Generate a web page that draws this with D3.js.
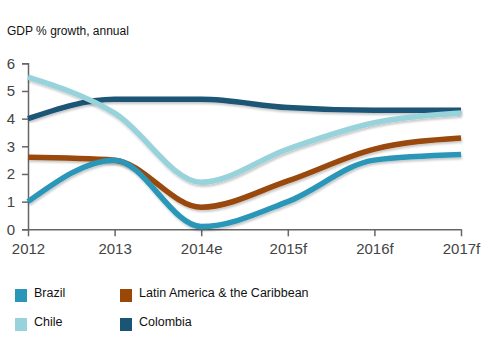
<!DOCTYPE html>
<html><head><meta charset="utf-8">
<script src="https://cdn.jsdelivr.net/npm/d3@7"></script>
<style>
body{margin:0;background:#fff;}
text{font-family:"Liberation Sans",Arial,sans-serif;}
</style></head>
<body><svg id="c" width="496" height="343"></svg>
<script>
const years = ["2012","2013","2014e","2015f","2016f","2017f"];
const brazil = [1.0, 2.5, 0.1, 1.0, 2.5, 2.7];
const latam = [2.6, 2.5, 0.8, 1.75, 2.9, 3.3];
const chile = [5.5, 4.2, 1.7, 2.9, 3.85, 4.2];
const colombia = [4.0, 4.7, 4.7, 4.4, 4.3, 4.3];
const yTicks = [0,1,2,3,4,5,6];
const seriesNames = ["Brazil","Latin America & the Caribbean","Chile","Colombia"];
const seriesColors = ["#2a97b8","#994808","#98d3dc","#1a5575"];

const series = [
  {name: seriesNames[0], values: brazil, color: seriesColors[0]},
  {name: seriesNames[1], values: latam, color: seriesColors[1]},
  {name: seriesNames[2], values: chile, color: seriesColors[2]},
  {name: seriesNames[3], values: colombia, color: seriesColors[3]}
];

const svg = d3.select("#c");
const x = d3.scalePoint().domain(years).range([28, 461]);
const y = d3.scaleLinear().domain([0, 6]).range([229.3, 63.3]);

const defs = svg.append("defs");
const f = defs.append("filter").attr("id","sh").attr("x","-5%").attr("y","-20%").attr("width","110%").attr("height","140%");
f.append("feDropShadow").attr("dx",1).attr("dy",2).attr("stdDeviation",1).attr("flood-color","#000").attr("flood-opacity",0.22);

svg.append("text").attr("x",7).attr("y",35).attr("font-size",12).attr("fill","#111").text("GDP % growth, annual");

// y axis
const ya = svg.append("g").attr("transform","translate(28,0)")
  .call(d3.axisLeft(y).tickValues(yTicks).tickFormat(d3.format("d")).tickSize(6).tickPadding(7));
ya.select(".domain").attr("stroke","#666").attr("stroke-width",1.5);
ya.selectAll(".tick line").attr("stroke","#666").attr("stroke-width",1.5);
ya.selectAll(".tick text").attr("font-size",15).attr("fill","#444").attr("font-family","Liberation Sans, Arial, sans-serif");

// x axis
const xa = svg.append("g").attr("transform","translate(0,229.3)")
  .call(d3.axisBottom(x).tickSize(7).tickSizeOuter(0).tickPadding(7));
xa.select(".domain").attr("stroke","#666").attr("stroke-width",1.5);
xa.selectAll(".tick line").attr("stroke","#666").attr("stroke-width",1.5);
xa.selectAll(".tick text").attr("font-size",15).attr("fill","#444").attr("font-family","Liberation Sans, Arial, sans-serif");

const line = d3.line().x((d,i)=>x(years[i])).y(d=>y(d)).curve(d3.curveMonotoneX);
const drawOrder = [3,2,1,0];
svg.append("g").selectAll("path").data(drawOrder.map(i=>series[i])).join("path")
  .attr("d", d=>line(d.values))
  .attr("fill","none").attr("stroke", d=>d.color).attr("stroke-width",5.5)
  .attr("filter","url(#sh)");

// legend
const leg = [
  {s: series[0], x: 15, y: 289},
  {s: series[1], x: 120, y: 289},
  {s: series[2], x: 15, y: 318},
  {s: series[3], x: 120, y: 318}
];
const lg = svg.append("g").selectAll("g").data(leg).join("g")
  .attr("transform", d=>`translate(${d.x},${d.y})`);
lg.append("rect").attr("width",12).attr("height",13).attr("fill", d=>d.s.color);
lg.append("text").attr("x",19).attr("y",8).attr("font-size",12.5).attr("fill","#111").text(d=>d.s.name);
</script></body></html>
